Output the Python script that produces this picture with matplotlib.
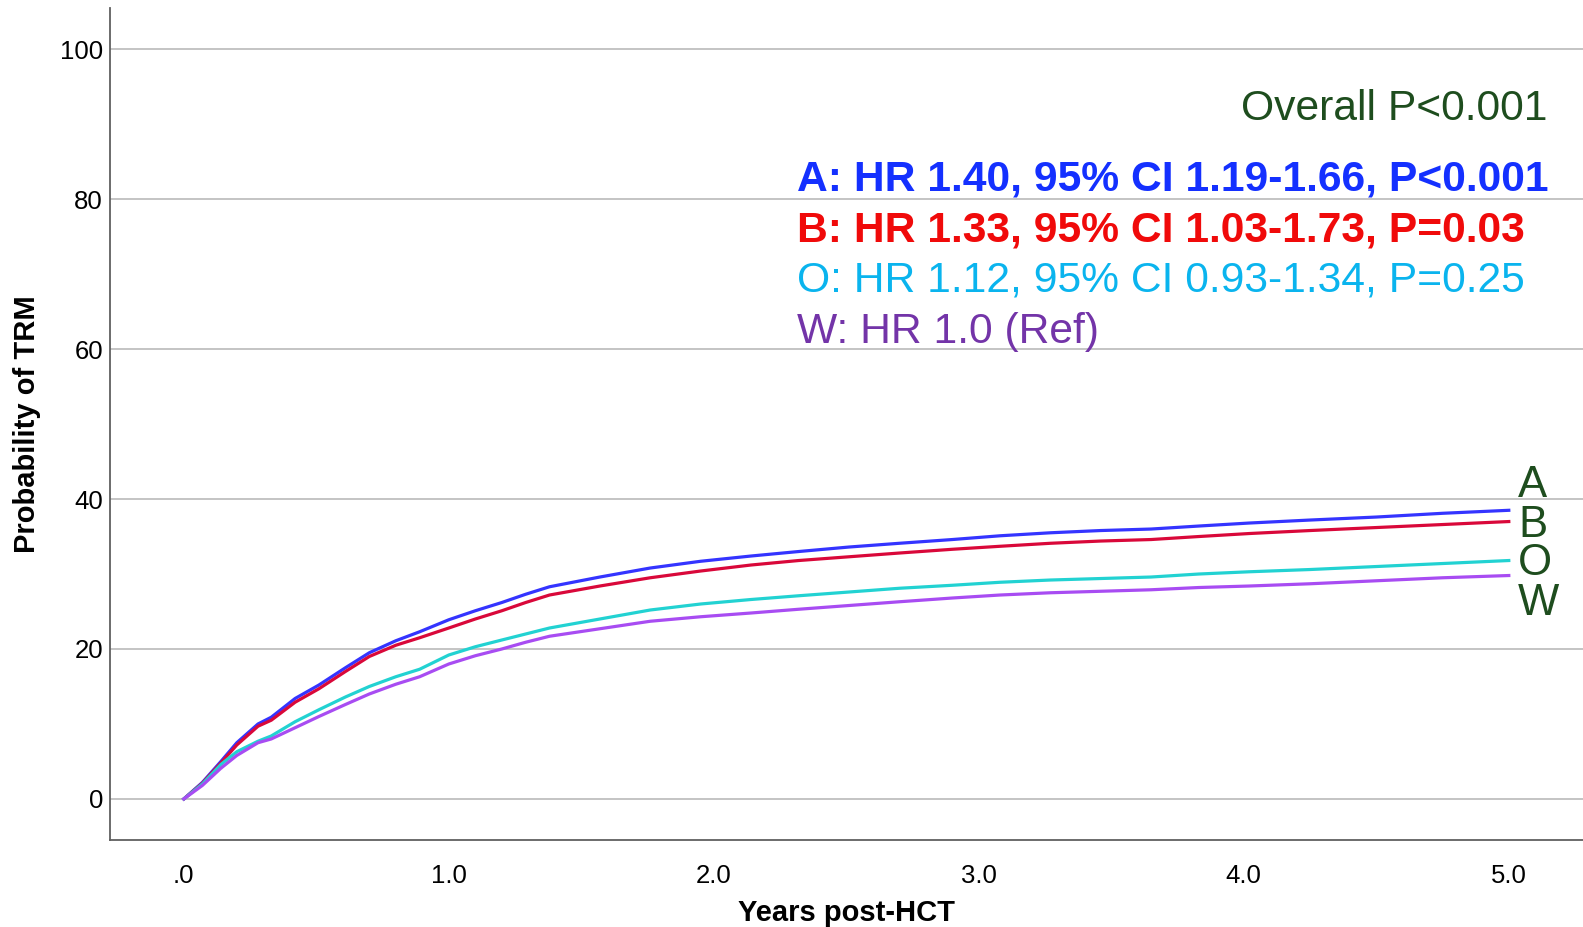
import matplotlib
matplotlib.use("Agg")
import matplotlib.pyplot as plt

plt.rcParams['font.family'] = ['Liberation Sans', 'DejaVu Sans']

# cumulative incidence of TRM (%)
years = [0, 0.07, 0.14, 0.2, 0.28, 0.33, 0.42, 0.51, 0.61, 0.7, 0.8, 0.89, 1.0,
         1.1, 1.2, 1.29, 1.38, 1.57, 1.76, 1.95, 2.14, 2.32, 2.51, 2.7, 2.9, 3.08,
         3.27, 3.46, 3.65, 3.83, 4.02, 4.25, 4.5, 4.75, 5.0]
trm_a = [0, 2.2, 5.0, 7.5, 10.0, 10.9, 13.4, 15.2, 17.5, 19.5, 21.1, 22.3, 23.9,
         25.1, 26.2, 27.3, 28.3, 29.6, 30.8, 31.7, 32.4, 33.0, 33.6, 34.1, 34.6, 35.1,
         35.5, 35.8, 36.0, 36.4, 36.8, 37.2, 37.6, 38.1, 38.5]
trm_b = [0, 2.1, 4.8, 7.2, 9.7, 10.5, 12.9, 14.7, 17.0, 19.0, 20.5, 21.5, 22.8,
         24.0, 25.1, 26.2, 27.2, 28.4, 29.5, 30.4, 31.2, 31.8, 32.3, 32.8, 33.3, 33.7,
         34.1, 34.4, 34.6, 35.0, 35.4, 35.8, 36.2, 36.6, 37.0]
trm_o = [0, 2.0, 4.6, 6.3, 7.7, 8.4, 10.3, 11.9, 13.6, 15.0, 16.3, 17.3, 19.2,
         20.3, 21.2, 22.0, 22.8, 24.0, 25.2, 26.0, 26.6, 27.1, 27.6, 28.1, 28.5, 28.9,
         29.2, 29.4, 29.6, 30.0, 30.3, 30.6, 31.0, 31.4, 31.8]
trm_w = [0, 1.8, 4.1, 5.8, 7.5, 8.0, 9.5, 11.0, 12.6, 14.0, 15.3, 16.3, 18.0,
         19.1, 20.0, 20.9, 21.7, 22.7, 23.7, 24.3, 24.8, 25.3, 25.8, 26.3, 26.8, 27.2,
         27.5, 27.7, 27.9, 28.2, 28.4, 28.7, 29.1, 29.5, 29.8]

groups = ["A", "B", "O", "W"]
x_ticks = [0, 1, 2, 3, 4, 5]
x_ticklabels = [".0", "1.0", "2.0", "3.0", "4.0", "5.0"]
y_ticks = [0, 20, 40, 60, 80, 100]

overall_text = "Overall P<0.001"
hr_texts = ["A: HR 1.40, 95% CI 1.19-1.66, P<0.001",
            "B: HR 1.33, 95% CI 1.03-1.73, P=0.03",
            "O: HR 1.12, 95% CI 0.93-1.34, P=0.25",
            "W: HR 1.0 (Ref)"]

line_colors = ["#3434FF", "#D9083A", "#22D2D2", "#A84CF2"]
text_colors = ["#1430FF", "#F00A0A", "#0AB4EE", "#7334A8"]
green = "#1E4D1E"

fig = plt.figure(figsize=(15.83, 9.27), dpi=100)
ax = fig.add_axes([0.0695, 0.0939, 0.9305, 0.8975])

for ys, c in zip([trm_a, trm_b, trm_o, trm_w], line_colors):
    ax.plot(years, ys, color=c, lw=2.3, solid_joinstyle='round', zorder=3)

ax.set_xlim(-0.2785, 5.28)
ax.set_ylim(-5.47, 105.5)
ax.set_xticks(x_ticks)
ax.set_xticklabels(x_ticklabels)
ax.set_yticks(y_ticks)
ax.tick_params(axis='both', length=0, labelsize=18.5)
ax.tick_params(axis='x', pad=17)
ax.tick_params(axis='y', pad=5)
ax.yaxis.grid(True, color="#b4b4b4", lw=1.1)
ax.set_axisbelow(True)
for s in ["top", "right"]:
    ax.spines[s].set_visible(False)
for s in ["left", "bottom"]:
    ax.spines[s].set_color("#606060")
    ax.spines[s].set_linewidth(1.3)

ax.set_xlabel("Years post-HCT", fontsize=21, fontweight="bold")
ax.xaxis.set_label_coords(0.5, -0.071)
ax.set_ylabel("Probability of TRM", fontsize=21, fontweight="bold")
ax.yaxis.set_label_coords(-0.047, 0.5)

ax.text(5.145, 90.6, overall_text, color=green, fontsize=30.7, ha="right", va="baseline")
hr_y = [81.1, 74.3, 67.7, 60.8]
for i, (t, c) in enumerate(zip(hr_texts, text_colors)):
    ax.text(2.315, hr_y[i], t, color=c, fontsize=30.7, ha="left", va="baseline",
            fontweight="bold" if i < 2 else "normal")

label_y = [40.3, 35.0, 29.9, 24.6]
for g, yv in zip(groups, label_y):
    ax.text(5.035, yv, g, color=green, fontsize=31.5, ha="left", va="baseline")

fig.savefig("out.png", dpi=100)
